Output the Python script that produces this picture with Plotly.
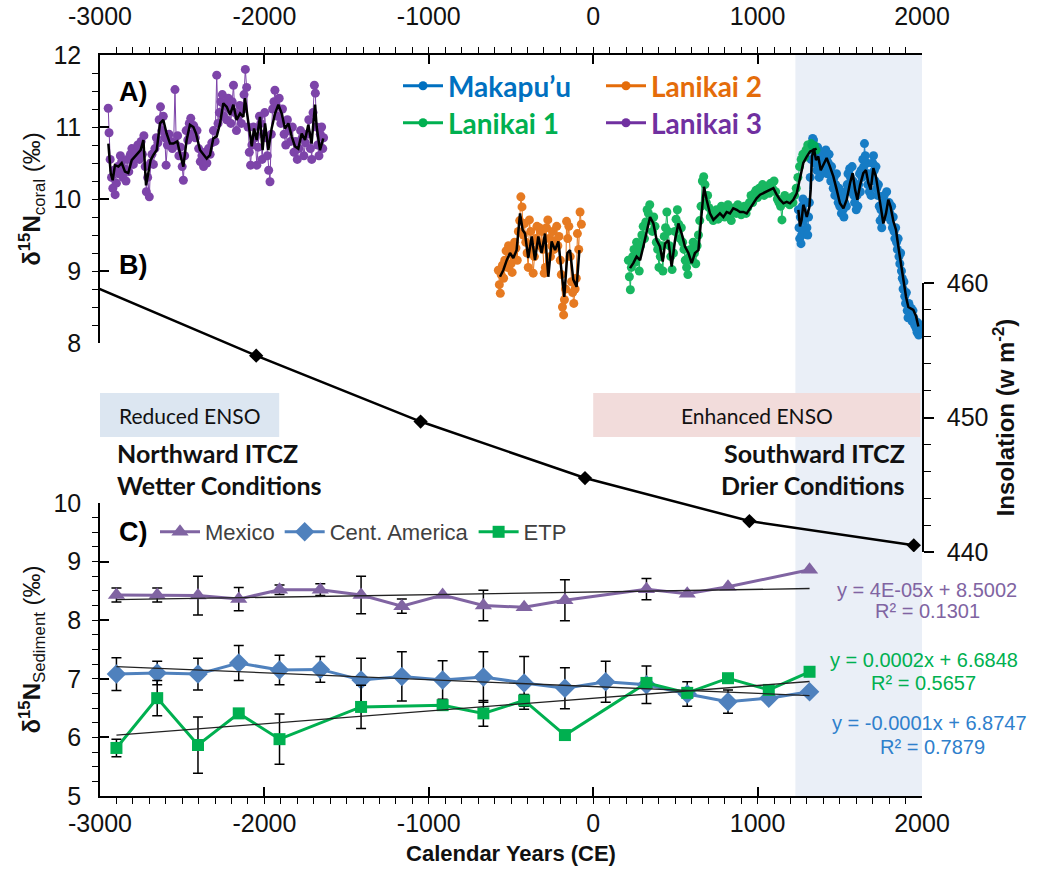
import numpy as np
import plotly.graph_objects as go

# ---------------- data ----------------
x_tick_vals = [-3000, -2000, -1000, 0, 1000, 2000]
x_tick_text = ["-3000", "-2000", "-1000", "0", "1000", "2000"]

# Makapu'u (blue) coral d15N
mak_years = [1248, 1252, 1256, 1260, 1264, 1268, 1272, 1276, 1280, 1285,
             1290, 1295, 1300, 1305, 1310, 1315, 1320, 1325, 1330, 1335,
             1340, 1345, 1350, 1355, 1360, 1365, 1370, 1375, 1380, 1385,
             1390, 1395, 1400, 1405, 1410, 1415, 1420, 1425, 1430, 1435,
             1440, 1445, 1450, 1455, 1460, 1465, 1470, 1475, 1480, 1485,
             1490, 1495, 1500, 1505, 1510, 1515, 1520, 1525, 1530, 1535,
             1540, 1545, 1550, 1555, 1560, 1565, 1570, 1575, 1580, 1585,
             1590, 1595, 1600, 1605, 1610, 1615, 1620, 1625, 1630, 1635,
             1640, 1645, 1650, 1655, 1660, 1665, 1670, 1675, 1680, 1685,
             1690, 1695, 1700, 1705, 1710, 1715, 1720, 1725, 1730, 1735,
             1740, 1745, 1750, 1755, 1760, 1765, 1770, 1775, 1780, 1785,
             1790, 1795, 1800, 1805, 1810, 1815, 1820, 1825, 1830, 1835,
             1840, 1845, 1850, 1855, 1860, 1865, 1870, 1875, 1880, 1885,
             1890, 1895, 1900, 1905, 1910, 1915, 1920, 1925, 1930, 1935,
             1940, 1945, 1950, 1955, 1960, 1965, 1970, 1975, 1980, 1985]
mak_vals = [9.85, 9.60, 9.45, 9.75, 9.38, 9.50, 9.90, 10.00, 9.70, 9.55,
            9.80, 9.95, 9.60, 9.50, 9.75, 9.95, 10.30, 10.55, 10.75, 10.84,
            10.82, 10.65, 10.50, 10.60, 10.40, 10.72, 10.55, 10.30, 10.45, 10.60,
            10.35, 10.55, 10.65, 10.40, 10.50, 10.68, 10.55, 10.35, 10.50, 10.62,
            10.40, 10.25, 10.45, 10.35, 10.15, 10.30, 10.05, 10.20, 10.35, 10.10,
            9.95, 10.15, 9.90, 10.05, 9.80, 10.00, 9.85, 9.75, 9.95, 10.10,
            9.90, 10.20, 10.35, 10.15, 10.42, 10.30, 10.10, 10.45, 10.25, 10.05,
            9.95, 10.15, 9.85, 10.05, 9.90, 10.20, 10.35, 10.10, 10.40, 10.30,
            10.55, 10.45, 10.77, 10.60, 10.35, 10.50, 10.20, 10.35, 10.10, 10.25,
            10.05, 10.30, 10.50, 10.60, 10.40, 10.25, 10.45, 10.15, 10.05, 10.20,
            9.90, 9.70, 9.85, 9.60, 9.75, 9.95, 10.05, 9.85, 9.95, 10.10,
            9.90, 9.75, 9.95, 9.80, 9.70, 9.90, 9.60, 9.75, 9.55, 9.45,
            9.60, 9.40, 9.30, 9.45, 9.20, 9.10, 9.25, 9.00, 8.90, 8.75,
            8.85, 8.65, 8.55, 8.70, 8.45, 8.35, 8.55, 8.50, 8.40, 8.48,
            8.30, 8.45, 8.35, 8.25, 8.30, 8.20, 8.15, 8.28, 8.11, 8.20]
mak_mean_years = [1248, 1258, 1268, 1278, 1288, 1299, 1315, 1323, 1331, 1343,
                  1355, 1369, 1384, 1400, 1420, 1440, 1461, 1481, 1501, 1522,
                  1542, 1562, 1578, 1593, 1607, 1623, 1643, 1659, 1674, 1688,
                  1704, 1720, 1734, 1749, 1765, 1781, 1795, 1809, 1826, 1842,
                  1856, 1870, 1886, 1903, 1917, 1931, 1947, 1964, 1978]
mak_mean_vals = [9.85, 9.62, 9.71, 9.92, 9.85, 9.75, 9.89, 10.13, 10.59, 10.70,
                 10.54, 10.59, 10.40, 10.47, 10.57, 10.45, 10.31, 10.13, 9.94, 9.87,
                 9.99, 10.22, 10.36, 10.13, 9.99, 10.19, 10.36, 10.40, 10.22, 10.13,
                 10.43, 10.31, 10.13, 9.89, 9.66, 9.80, 9.99, 9.89, 9.69, 9.57,
                 9.34, 9.11, 8.85, 8.64, 8.50, 8.48, 8.46, 8.37, 8.23]

# Lanikai 1 (green)
l1_years = [214, 220, 226, 232, 240, 248, 256, 264, 272, 280,
            288, 296, 304, 312, 320, 328, 336, 344, 352, 360,
            368, 376, 384, 392, 400, 408, 416, 424, 432, 440,
            448, 456, 464, 472, 480, 488, 496, 504, 512, 520,
            528, 536, 544, 552, 560, 568, 576, 584, 592, 600,
            608, 616, 624, 632, 640, 648, 656, 664, 672, 680,
            688, 696, 704, 712, 720, 730, 740, 750, 760, 770,
            780, 790, 800, 810, 820, 830, 840, 850, 860, 870,
            880, 890, 900, 910, 920, 930, 940, 950, 960, 970,
            980, 990, 1000, 1010, 1020, 1030, 1040, 1050, 1060, 1070,
            1080, 1090, 1100, 1110, 1120, 1130, 1140, 1148, 1156, 1165,
            1175, 1185, 1195, 1205, 1215, 1225, 1235, 1245, 1255, 1265,
            1275, 1285, 1295, 1305, 1315, 1325, 1335, 1345, 1355]
l1_vals = [9.15, 8.92, 8.74, 9.05, 9.20, 9.30, 9.12, 9.40, 9.25, 9.00,
           9.35, 9.50, 9.62, 9.45, 9.68, 9.85, 9.80, 9.92, 9.70, 9.55,
           9.75, 9.62, 9.40, 9.30, 9.05, 9.20, 9.35, 9.00, 9.48, 9.60,
           9.82, 9.55, 9.35, 9.20, 9.02, 9.25, 9.55, 9.72, 9.85, 9.65,
           9.45, 9.60, 9.40, 9.30, 9.15, 9.05, 8.95, 9.20, 9.30, 9.15,
           9.40, 9.25, 9.10, 9.35, 9.50, 9.70, 9.90, 10.25, 10.31, 10.20,
           9.95, 10.05, 9.88, 9.75, 9.82, 9.70, 9.78, 9.85, 9.72, 9.80,
           9.90, 9.82, 9.75, 9.85, 9.92, 9.78, 9.70, 9.82, 9.88, 9.80,
           9.92, 9.85, 9.78, 9.85, 9.90, 9.80, 9.88, 9.95, 10.05, 9.95,
           10.08, 10.12, 10.02, 10.15, 10.10, 10.20, 10.05, 10.12, 10.18, 10.08,
           10.22, 10.15, 10.25, 10.10, 10.00, 9.95, 9.90, 9.71, 9.98, 10.05,
           9.95, 10.00, 9.92, 10.02, 9.95, 10.05, 10.15, 10.30, 10.45, 10.55,
           10.62, 10.58, 10.68, 10.75, 10.72, 10.77, 10.70, 10.74, 10.68]
l1_mean_years = [224, 244, 264, 285, 305, 325, 346, 366, 386, 406,
                 423, 437, 457, 477, 498, 518, 538, 558, 579, 599,
                 619, 640, 660, 674, 690, 710, 731, 751, 771, 792,
                 812, 832, 852, 873, 893, 913, 934, 954, 974, 994,
                 1015, 1035, 1055, 1075, 1096, 1116, 1136, 1157, 1177, 1197,
                 1217, 1238, 1258, 1278, 1299, 1319, 1339, 1359]
l1_mean_vals = [9.04, 9.11, 9.20, 9.15, 9.34, 9.52, 9.75, 9.66, 9.43, 9.34,
                9.13, 9.38, 9.43, 9.06, 9.43, 9.66, 9.52, 9.34, 9.25, 9.11,
                9.25, 9.29, 9.75, 10.17, 9.99, 9.80, 9.71, 9.75, 9.80, 9.75,
                9.82, 9.80, 9.87, 9.85, 9.82, 9.82, 9.80, 9.87, 9.94, 10.01,
                10.06, 10.08, 10.10, 10.13, 10.15, 10.06, 9.99, 9.94, 9.96, 9.94,
                9.99, 10.08, 10.29, 10.50, 10.59, 10.66, 10.68, 10.70]

# Lanikai 2 (orange)
l2_years = [-577, -571, -565, -560, -552, -545, -538, -530, -522, -515,
            -508, -500, -493, -486, -478, -470, -462, -455, -447, -440,
            -433, -425, -418, -410, -402, -395, -388, -380, -372, -365,
            -358, -350, -342, -335, -328, -320, -313, -306, -298, -291,
            -284, -276, -268, -260, -253, -245, -238, -230, -222, -215,
            -208, -200, -194, -187, -180, -175, -168, -162, -155, -148,
            -140, -132, -125, -118, -110, -103, -96, -88, -80, -72]
l2_vals = [9.01, 8.81, 8.69, 8.95, 9.08, 8.90, 9.15, 9.28, 9.05, 9.35,
           9.30, 9.10, 8.98, 9.20, 9.40, 9.32, 9.15, 9.55, 9.70, 10.03,
           9.89, 9.50, 9.66, 9.40, 9.25, 9.05, 9.71, 9.55, 9.30, 8.97,
           9.20, 9.45, 9.62, 9.40, 9.60, 9.35, 9.55, 9.30, 8.97, 9.05,
           9.60, 9.71, 9.45, 9.20, 9.35, 9.55, 9.30, 9.42, 9.62, 9.35,
           9.48, 9.15, 8.95, 8.50, 8.39, 8.60, 8.75, 9.69, 9.45, 9.62,
           9.20, 8.85, 8.70, 8.55, 8.75, 8.90, 9.52, 9.30, 9.82, 9.65]
l2_mean_years = [-567, -547, -526, -506, -486, -466, -445, -429, -415, -395,
                 -374, -354, -334, -314, -293, -273, -253, -232, -212, -192,
                 -176, -157, -141, -121, -101, -84]
l2_mean_vals = [8.92, 9.01, 9.15, 9.25, 9.18, 9.29, 9.80, 9.57, 9.52, 9.18,
                9.48, 9.15, 9.48, 9.25, 9.52, 8.92, 9.41, 9.29, 9.41, 9.01,
                8.64, 9.25, 9.29, 8.88, 8.78, 9.29]

# Lanikai 3 (purple)
l3_years = [-2950, -2945, -2938, -2930, -2922, -2915, -2908, -2900, -2892, -2884,
            -2876, -2868, -2860, -2850, -2842, -2834, -2825, -2815, -2806, -2797,
            -2788, -2778, -2770, -2760, -2750, -2742, -2733, -2725, -2718, -2710,
            -2700, -2692, -2684, -2675, -2666, -2657, -2648, -2640, -2632, -2624,
            -2615, -2606, -2598, -2590, -2580, -2570, -2560, -2552, -2544, -2536,
            -2528, -2520, -2510, -2500, -2493, -2485, -2476, -2466, -2457, -2448,
            -2440, -2430, -2420, -2410, -2400, -2390, -2380, -2370, -2360, -2350,
            -2340, -2330, -2320, -2310, -2300, -2290, -2282, -2274, -2265, -2256,
            -2248, -2240, -2230, -2220, -2212, -2204, -2196, -2188, -2180, -2170,
            -2160, -2150, -2140, -2132, -2124, -2116, -2108, -2100, -2092, -2084,
            -2076, -2066, -2056, -2046, -2038, -2030, -2022, -2014, -2006, -1998,
            -1990, -1982, -1974, -1966, -1958, -1950, -1942, -1936, -1928, -1920,
            -1910, -1900, -1890, -1880, -1870, -1860, -1850, -1840, -1830, -1820,
            -1810, -1800, -1790, -1780, -1770, -1760, -1750, -1740, -1730, -1720,
            -1712, -1704, -1696, -1690, -1684, -1676, -1668, -1660, -1652, -1645,
            -1640]
l3_vals = [11.26, 10.92, 10.55, 10.30, 10.15, 10.40, 10.06, 10.22, 10.45, 10.35,
           10.60, 10.52, 10.30, 10.42, 10.25, 10.55, 10.38, 10.62, 10.70, 10.48,
           10.58, 10.66, 10.75, 10.55, 10.80, 10.62, 10.88, 10.45, 10.10, 10.30,
           10.03, 10.50, 10.62, 10.48, 10.70, 10.85, 10.78, 11.10, 11.28, 10.95,
           11.15, 10.85, 10.47, 10.75, 10.90, 10.80, 10.70, 10.78, 11.52, 10.75,
           10.88, 10.60, 10.72, 10.45, 10.26, 10.60, 10.95, 10.82, 11.05, 11.12,
           10.90, 11.02, 10.85, 10.95, 10.70, 10.52, 10.60, 10.45, 10.65, 10.50,
           10.70, 10.62, 10.78, 10.95, 10.80, 11.72, 11.05, 11.20, 11.35, 11.45,
           11.15, 11.30, 11.10, 11.40, 11.25, 11.05, 11.35, 11.58, 11.20, 10.95,
           11.15, 11.30, 11.05, 11.25, 11.45, 11.80, 11.55, 11.00, 10.65, 10.47,
           10.75, 11.00, 10.85, 10.47, 10.72, 11.15, 11.05, 10.55, 10.90, 11.20,
           10.85, 10.60, 10.40, 10.24, 10.90, 11.25, 11.35, 11.51, 11.30, 11.15,
           11.40, 11.05, 11.25, 10.90, 10.75, 11.10, 10.95, 10.80, 11.00, 10.65,
           10.80, 10.55, 10.70, 10.95, 10.85, 10.60, 10.78, 10.90, 11.10, 10.70,
           10.55, 11.20, 11.58, 11.47, 11.00, 10.75, 10.60, 10.90, 11.00, 10.70,
           10.85]
l3_mean_years = [-2949, -2935, -2923, -2909, -2888, -2868, -2848, -2828, -2807, -2787,
                 -2767, -2753, -2736, -2720, -2706, -2692, -2676, -2655, -2635, -2615,
                 -2595, -2574, -2554, -2530, -2513, -2493, -2473, -2453, -2432, -2416,
                 -2392, -2371, -2351, -2331, -2311, -2290, -2270, -2250, -2229, -2209,
                 -2189, -2169, -2148, -2128, -2118, -2098, -2077, -2063, -2047, -2027,
                 -2011, -1996, -1976, -1956, -1935, -1915, -1895, -1875, -1854, -1834,
                 -1814, -1794, -1773, -1753, -1733, -1713, -1692, -1682, -1662, -1642]
l3_mean_vals = [10.77, 10.36, 10.26, 10.47, 10.45, 10.50, 10.38, 10.36, 10.54, 10.59,
                10.63, 10.68, 10.82, 10.19, 10.36, 10.54, 10.61, 10.68, 11.05, 11.10,
                10.91, 10.77, 10.77, 10.80, 10.63, 10.45, 10.82, 11.03, 11.00, 10.91,
                10.68, 10.61, 10.56, 10.61, 10.84, 10.87, 11.05, 11.33, 11.28, 11.17,
                11.31, 11.10, 11.19, 11.14, 11.40, 11.07, 10.73, 10.98, 10.82, 11.14,
                10.68, 11.05, 10.68, 10.98, 11.19, 11.31, 11.19, 10.98, 11.05, 10.87,
                10.73, 10.70, 10.91, 10.82, 11.03, 10.77, 11.31, 11.00, 10.68, 10.84]

# Insolation (B)
insol_years = [-3050, -2050, -1050, -50, 950, 1950]
insol_vals = [459.8, 454.6, 449.7, 445.5, 442.3, 440.5]

# Sediment d15N (C)
sed_years = [-2900, -2652, -2404, -2156, -1908, -1660, -1412, -1164, -916,
             -668, -420, -172, 76, 324, 572, 820, 1068, 1316]
mex_vals = [8.43, 8.43, 8.42, 8.36, 8.52, 8.52, 8.43, 8.24, 8.43,
            8.25, 8.22, 8.34, None, 8.53, 8.45, 8.57, None, 8.86]
mex_err = [0.12, 0.12, 0.33, 0.20, 0.08, 0.10, 0.32, 0.12, None,
           0.26, None, 0.35, None, 0.18, None, None, None, None]
ca_vals = [7.08, 7.10, 7.08, 7.27, 7.15, 7.16, 6.98, 7.04, 6.98,
           7.03, 6.93, 6.84, 6.95, 6.90, 6.74, 6.61, 6.67, 6.78]
ca_err = [0.28, 0.20, 0.27, 0.30, 0.25, 0.22, 0.37, 0.42, 0.33,
          0.43, 0.45, 0.35, 0.35, 0.32, 0.21, 0.20, None, None]
etp_vals = [5.82, 6.67, 5.87, 6.41, 5.97, None, 6.52, None, 6.55,
            6.41, 6.63, 6.04, None, 6.93, 6.76, 7.01, 6.81, 7.12]
etp_err = [0.15, 0.30, 0.48, None, 0.43, None, 0.37, None, None,
           0.22, 0.10, None, None, None, None, None, None, None]

mex_eq = ["y = 4E-05x + 8.5002", "R² = 0.1301"]
etp_eq = ["y = 0.0002x + 6.6848", "R² = 0.5657"]
ca_eq = ["y = -0.0001x + 6.8747", "R² = 0.7879"]

shade_span = [1230, 2000]
reduced_span = [-3000, -1910]
enhanced_span = [0, 1990]

# ---------------- styling ----------------
AX_FONT = "Liberation Sans, Arial, sans-serif"
CAL_FONT = "Lato, Carlito, Calibri, sans-serif"
C_MAK, C_L1, C_L2, C_L3 = "#0070C0", "#00B050", "#E46C0A", "#7030A0"
C_MEX, C_CA, C_ETP = "#8064A2", "#4F81BD", "#00B050"

PL, PR, PT, PB = 100, 922, 55, 796
def fx(px):
    return (px - PL) / (PR - PL)
def fy(py):
    return (PB - py) / (PB - PT)

fig = go.Figure()

def nan_list(v):
    return [np.nan if a is None else a for a in v]

# coral series (top panel)
for yrs, vals, col in [(mak_years, mak_vals, C_MAK), (l1_years, l1_vals, C_L1),
                       (l2_years, l2_vals, C_L2), (l3_years, l3_vals, C_L3)]:
    fig.add_trace(go.Scatter(x=yrs, y=vals, mode="lines+markers",
                             line=dict(color=col, width=1), marker=dict(color=col, size=9),
                             opacity=0.9, xaxis="x2", yaxis="y2", showlegend=False))
for yrs, vals in [(mak_mean_years, mak_mean_vals), (l1_mean_years, l1_mean_vals),
                  (l2_mean_years, l2_mean_vals), (l3_mean_years, l3_mean_vals)]:
    fig.add_trace(go.Scatter(x=yrs, y=vals, mode="lines", line=dict(color="black", width=2.5),
                             xaxis="x2", yaxis="y2", showlegend=False))

# legend entries for coral series
for name, col, lg in [("Makapu’u", C_MAK, "legend"), ("Lanikai 1", C_L1, "legend2"),
                      ("Lanikai 2", C_L2, "legend3"), ("Lanikai 3", C_L3, "legend4")]:
    fig.add_trace(go.Scatter(x=[None], y=[None], mode="lines+markers", name=name,
                             line=dict(color=col, width=3), marker=dict(color=col, size=9),
                             xaxis="x2", yaxis="y2", legend=lg, showlegend=True))

# insolation
fig.add_trace(go.Scatter(x=insol_years, y=insol_vals, mode="lines+markers",
                         line=dict(color="black", width=2.5),
                         marker=dict(symbol="diamond", size=11, color="black"),
                         xaxis="x", yaxis="y3", showlegend=False))

# sediment series
for name, vals, err, col, sym, msz in [("Mexico", mex_vals, mex_err, C_MEX, "triangle-up", 15),
                                        ("Cent. America", ca_vals, ca_err, C_CA, "diamond", 15),
                                        ("ETP", etp_vals, etp_err, C_ETP, "square", 12)]:
    fig.add_trace(go.Scatter(x=sed_years, y=nan_list(vals), name=name, mode="lines+markers",
                             connectgaps=True, line=dict(color=col, width=3),
                             marker=dict(symbol=sym, size=msz, color=col),
                             error_y=dict(type="data", array=nan_list(err), color="black",
                                          thickness=1.5, width=5),
                             xaxis="x", yaxis="y", legend="legend5", showlegend=True))
# linear trendlines fitted to each series
for vals in [mex_vals, ca_vals, etp_vals]:
    xs = np.array([x for x, v in zip(sed_years, vals) if v is not None], float)
    ys = np.array([v for v in vals if v is not None], float)
    k, b = np.polyfit(xs, ys, 1)
    xe = np.array([xs.min(), xs.max()])
    fig.add_trace(go.Scatter(x=xe, y=k * xe + b, mode="lines",
                             line=dict(color="#222222", width=1.3),
                             xaxis="x", yaxis="y", showlegend=False))

# ---------------- shapes ----------------
shapes = [
    dict(type="rect", xref="x", yref="paper", x0=shade_span[0], x1=shade_span[1], y0=0, y1=1,
         fillcolor="#EAEFF7", line=dict(width=0), layer="below"),
    dict(type="rect", xref="x", yref="paper", x0=reduced_span[0], x1=reduced_span[1],
         y0=fy(437), y1=fy(393), fillcolor="#DCE6F1", line=dict(width=0), layer="below"),
    dict(type="rect", xref="x", yref="paper", x0=enhanced_span[0], x1=enhanced_span[1],
         y0=fy(437), y1=fy(393), fillcolor="#F2DCDB", line=dict(width=0), layer="below"),
]

def ann(text, x, y, size, color="#111111", family=CAL_FONT, xanchor="center", bold=False):
    return dict(text=text, x=x, y=y, xref="paper", yref="paper", showarrow=False,
                xanchor=xanchor, yanchor="middle",
                font=dict(family=family, size=size, color=color, weight="bold" if bold else "normal"))

annotations = [
    ann("A)", fx(117), fy(92), 27, "black", AX_FONT, "left", True),
    ann("B)", fx(117), fy(265), 27, "black", AX_FONT, "left", True),
    ann("C)", fx(117), fy(532), 27, "black", AX_FONT, "left", True),
    ann("Reduced ENSO", fx(189), fy(415), 21),
    ann("Enhanced ENSO", fx(757), fy(415), 21),
    ann("Northward ITCZ", fx(115), fy(453), 25, xanchor="left", bold=True),
    ann("Wetter Conditions", fx(115), fy(485), 25, xanchor="left", bold=True),
    ann("Southward ITCZ", fx(907), fy(453), 25, xanchor="right", bold=True),
    ann("Drier Conditions", fx(907), fy(485), 25, xanchor="right", bold=True),
    ann(mex_eq[0], fx(927), fy(590), 20, C_MEX, AX_FONT),
    ann(mex_eq[1], fx(927), fy(611), 20, C_MEX, AX_FONT),
    ann(etp_eq[0], fx(924), fy(660), 20, C_ETP, AX_FONT),
    ann(etp_eq[1], fx(923), fy(683), 20, C_ETP, AX_FONT),
    ann(ca_eq[0], fx(929), fy(723), 20, "#2F80CC", AX_FONT),
    ann(ca_eq[1], fx(933), fy(747), 20, "#2F80CC", AX_FONT),
]

# ---------------- axes ----------------
tickfont = dict(family=AX_FONT, size=25, color="#111111")
xcommon = dict(range=[-3000, 2000], tickmode="array", tickvals=x_tick_vals, ticktext=x_tick_text,
               showline=True, linecolor="black", linewidth=1.5, ticks="inside", ticklen=9,
               tickwidth=1.5, tickcolor="black", showgrid=False, zeroline=False,
               minor=dict(tickmode="linear", tick0=-3000, dtick=100, ticks="outside", ticklen=6,
                          tickwidth=1.2, tickcolor="black", showgrid=False),
               tickfont=tickfont, automargin=False)
ycommon = dict(showline=True, linecolor="black", linewidth=1.5, ticks="inside", ticklen=9,
               tickwidth=1.5, tickcolor="black", showgrid=False, zeroline=False,
               tickfont=tickfont, automargin=False)

legend_common = dict(xanchor="left", yanchor="middle", bgcolor="rgba(0,0,0,0)", borderwidth=0,
                     itemwidth=40, orientation="v")

fig.update_layout(
    width=1047, height=882,
    margin=dict(l=PL, r=1047 - PR, t=PT, b=882 - PB, autoexpand=False),
    paper_bgcolor="white", plot_bgcolor="rgba(0,0,0,0)",
    shapes=shapes, annotations=annotations,
    xaxis=dict(**xcommon, anchor="y", ticklabelstandoff=4,
               title=dict(text="<b>Calendar Years (CE)</b>", font=dict(family=AX_FONT, size=22, color="#111111"), standoff=10)),
    xaxis2=dict(**xcommon, anchor="y2", side="top", overlaying="x", ticklabelstandoff=18),
    yaxis=dict(**ycommon, domain=[0, fy(503)], range=[5, 10], dtick=1, anchor="x",
               minor=dict(dtick=0.25, ticks="outside", ticklen=6, tickwidth=1.2, tickcolor="black"),
               ticklabelstandoff=12,
               title=dict(text="<b>δ<sup>15</sup>N</b><sub>Sediment</sub> (‰)",
                          font=dict(family=AX_FONT, size=24, color="#111111"), standoff=6)),
    yaxis2=dict(**ycommon, domain=[fy(343), 1], range=[8, 12], dtick=1, anchor="x2",
                minor=dict(dtick=0.25, ticks="outside", ticklen=6, tickwidth=1.2, tickcolor="black"),
                ticklabelstandoff=12,
                title=dict(text="<b>δ<sup>15</sup>N</b><sub>coral</sub> (‰)",
                           font=dict(family=AX_FONT, size=24, color="#111111"), standoff=6)),
    yaxis3=dict(showline=True, linecolor="black", linewidth=1.5, ticks="outside", ticklen=10,
                tickwidth=1.5, tickcolor="black", showgrid=False, zeroline=False,
                tickfont=tickfont, automargin=False,
                domain=[fy(552), fy(283)], range=[440, 460], dtick=10, anchor="x", side="right",
                minor=dict(dtick=2, ticks="outside", ticklen=7, tickwidth=1.2, tickcolor="black"),
                ticklabelstandoff=8,
                title=dict(text="<b>Insolation (w m<sup>-2</sup>)</b>",
                           font=dict(family=AX_FONT, size=24, color="#111111"), standoff=10)),
    legend=dict(**legend_common, x=fx(398), y=fy(86),
                font=dict(family=CAL_FONT, size=28, color=C_MAK, weight="bold")),
    legend2=dict(**legend_common, x=fx(398), y=fy(123),
                 font=dict(family=CAL_FONT, size=28, color=C_L1, weight="bold")),
    legend3=dict(**legend_common, x=fx(601), y=fy(86),
                 font=dict(family=CAL_FONT, size=28, color=C_L2, weight="bold")),
    legend4=dict(**legend_common, x=fx(601), y=fy(123),
                 font=dict(family=CAL_FONT, size=28, color=C_L3, weight="bold")),
    legend5=dict(xanchor="left", yanchor="middle", bgcolor="rgba(0,0,0,0)", borderwidth=0,
                 itemwidth=40, orientation="h", x=fx(155), y=fy(532),
                 font=dict(family=AX_FONT, size=22, color="#404040")),
)

fig.write_html("out.html")
